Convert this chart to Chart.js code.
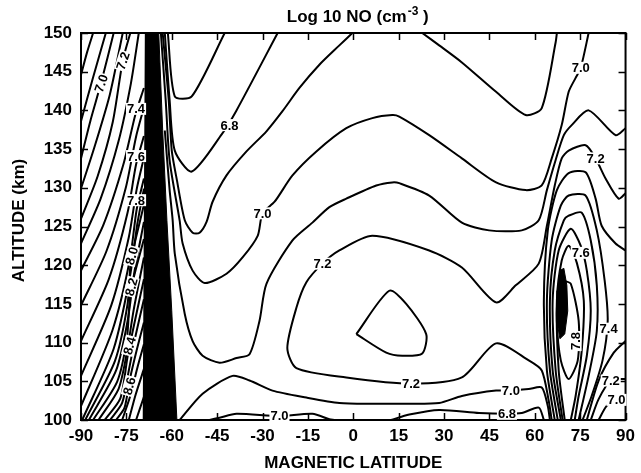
<!DOCTYPE html>
<html>
<head>
<meta charset="utf-8">
<script src="https://cdn.jsdelivr.net/npm/chart.js@4.4.0/dist/chart.umd.min.js"></script>
<style>
  html, body { margin: 0; padding: 0; background: #fff; }
  #wrap { width: 641px; height: 473px; }
</style>
</head>
<body>
<div id="wrap"><canvas id="c" width="641" height="473"></canvas></div>
<script>
// Axis ticks
const latTicks = [-90, -75, -60, -45, -30, -15, 0, 15, 30, 45, 60, 75, 90];
const altTicks = [100, 105, 110, 115, 120, 125, 130, 135, 140, 145, 150];

// Contour lines of log10 NO, as [magnetic latitude, altitude km] points.
// Southern high-latitude band (left of the steep gradient)
const s68 = [[-90,144.6],[-88.0,147.5],[-86.0,150]];
const s69 = [[-90,138.6],[-86.2,144.0],[-81.8,150]];
const s70 = [[-90,133.8],[-86.8,138.8],[-83.4,143.5],[-79.2,150]];
const s71 = [[-90,129.9],[-85.6,135.2],[-80.5,142.0],[-76.2,150]];
const s72 = [[-90,126.0],[-84.5,131.5],[-79.5,138.5],[-76.2,146.4],[-73.7,150]];
const s73 = [[-90,122.8],[-83.5,128.6],[-77.6,136.0],[-73.5,143.5],[-70.9,150]];
const s74 = [[-90,119.3],[-82.6,125.2],[-76.0,133.0],[-72.0,139.5],[-69.2,142.9]];
const s75 = [[-90,114.8],[-81.6,121.8],[-75.2,130.0],[-71.8,136.6],[-69.2,140.4]];
const s76 = [[-90,110.2],[-80.8,118.2],[-74.6,126.8],[-71.8,133.0],[-69.2,136.7]];
const s77 = [[-90,105.7],[-80.0,114.8],[-74.2,123.6],[-71.6,129.8],[-69.2,133.9]];
const s78 = [[-90,101.8],[-79.6,111.6],[-73.9,120.6],[-71.6,127.2],[-69.2,131.2]];
const s79 = [[-89.6,100],[-79.2,109.2],[-73.8,118.6],[-71.4,125.3],[-69.2,129.9]];
const s80 = [[-88.6,100],[-78.8,107.6],[-74.6,115.0],[-73.5,120.5],[-69.2,127.8]];
const s81 = [[-87.4,100],[-78.4,106.4],[-74.6,112.8],[-72.4,119.0],[-69.2,125.6]];
const s82 = [[-86.0,100],[-78.0,105.0],[-74.8,110.6],[-73.6,116.6],[-69.2,123.4]];
const s83 = [[-84.2,100],[-77.6,104.0],[-74.9,108.6],[-72.6,114.2],[-69.2,121.0]];
const s84 = [[-82.2,100],[-77.0,102.8],[-74.6,108.2],[-72.4,112.4],[-69.2,118.2]];
const s85 = [[-80.4,100],[-76.4,102.2],[-74.2,106.4],[-72.0,110.8],[-69.2,115.6]];
const s86 = [[-78.4,100],[-75.6,101.6],[-74.0,105.0],[-71.6,109.0],[-69.2,112.6]];
const s87 = [[-76.4,100],[-73.8,103.0],[-71.2,107.0],[-69.2,109.8]];
const s88 = [[-74.2,100],[-72.0,103.2],[-69.2,106.6]];
const s89 = [[-71.8,100],[-69.2,103.0]];

// Band of packed contours near -65 deg
const steepBand = [[-68.9,150],[-64.3,150],[-63.0,137.4],[-61.6,125.8],[-60.0,114.1],[-58.3,100],[-69.6,100]];

// Mid-latitude contours
const m67 = [[-61.3,150],[-59.0,141.8],[-53.4,141.8],[-42.5,150]];
const m68 = [[-62.3,150],[-60.7,141.3],[-59.0,134.8],[-53.4,132.1],[-43.5,136.9],[-38.6,140.0],[-25.0,150]];
const m69 = [[-63.0,150],[-61.0,141.3],[-60.0,134.8],[-58.3,131],[-55.7,125.8],[-53.1,124.2],[-50.8,124.2],[-48.5,125.6],[-46.5,128.2],[-41.9,131.6],[-35.3,134.7],[-28.7,137.3],[-23.4,139.9],[-17.8,142.9],[-11.2,145.9],[-4.6,148.4],[-0.3,150]];
const n69 = [[22.8,150],[28.4,148.4],[35.9,146.2],[47.2,142.4],[57.0,139.4],[62.3,140.3],[66.9,148.8],[67.3,150]];
const m70 = [[-63.6,150],[-62.0,141.3],[-60.7,133.5],[-57.4,125.8],[-56.4,122.8],[-53.1,119.3],[-49.1,117.7],[-41.9,118.9],[-36.6,121.0],[-31.6,123.8],[-30.0,126.7],[-26.0,128.2],[-20.1,131.6],[-12.2,134.7],[-2.3,137.7],[6.3,139.0],[12.9,139.4],[15.2,139.2],[25.1,136.8],[35.9,133.8],[47.2,130.7],[57.0,129.7],[62.3,130.3],[65.6,133.8],[68.9,138.1],[71.2,142.4],[73.5,144.2],[75.2,145.5],[77.8,150]];
const m71 = [[-62.3,137.4],[-60.7,129.7],[-59.7,125.8],[-59.0,121.5],[-55.7,113.7],[-53.1,110.2],[-49.8,108.3],[-44.2,107.4],[-38.6,108.0],[-34.3,108.5],[-31.0,112.8],[-28.7,117.6],[-20.1,123.2],[-13.5,125.5],[-7.9,127.5],[-2.3,128.6],[7.6,130.3],[12.9,130.7],[15.2,130.6],[25.1,129.0],[35.9,125.5],[44.9,124.5],[55.7,124.5],[61.3,125.8],[64.0,129.7],[66.9,133.6],[69.6,136.8],[72.2,138.1],[77.8,140.0],[86.7,136.8],[90,137.7]];
const m72 = [[90,129.3],[87.7,128.6],[83.4,131.2],[80.1,133.8],[76.8,135.5],[71.2,134.8],[68.9,133.8],[66.6,130.3],[64.0,125.1],[61.3,120.2],[53.7,117.4],[47.2,115.2],[35.9,119.7],[25.1,121.9],[6.3,123.8],[-4.6,121.9],[-10.2,120.2],[-15.5,117.8],[-18.8,114.5],[-21.8,109.3],[-18.8,106.7],[-2.3,105.5],[19.1,104.7],[35.9,105.5],[47.2,109.9],[58.0,107.7],[62.3,106.4],[64.6,102.5],[65.6,100]];
const m73 = [[1.0,111.1],[11.9,116.7],[17.5,115.0],[24.1,111.1],[22.8,108.6],[16.2,108.3],[10.9,108.7],[1.0,111.1]];
const low70 = [[-57.4,100],[-49.8,103.4],[-39.9,105.7],[-34.3,105.1],[-26.7,103.8],[-15.5,102.9],[-4.6,102.2],[6.3,102.1],[17.5,102.1],[28.4,102.2],[35.9,103.1],[47.2,103.8],[52.1,103.8],[58.0,104.0],[62.3,104.2],[64.3,101.8],[65.0,100]];
const base70 = [[-47.5,100],[-44.2,100.3],[-38.6,100.8],[-24.4,100.5],[-13.5,100.8],[-7.9,100.1],[-6.3,100]];
const base68 = [[12.5,100],[18.5,100.7],[28.4,101.3],[41.6,100.9],[50.8,100.8],[55.7,100.9],[61.3,101.6],[63.0,100]];

// Northern auroral enhancement near 70 deg
const p73 = [[66.6,100],[64.0,106.4],[63.0,115.4],[64.3,124.5],[67.3,129.7],[71.2,131.9],[76.8,132.0],[80.1,128.6],[82.1,125.1],[86.7,122.8],[90,121.9]];
const p73b = [[90,110.2],[86.1,108.7],[81.1,105.1],[77.2,100]];
const p74 = [[67.6,100],[65.0,106.4],[64.0,115.4],[65.6,123.2],[68.6,127.7],[71.2,129.0],[76.8,129.0],[80.5,124.5],[83.1,118.0],[84.1,112.8],[82.4,107.7],[78.8,103.1],[75.8,100]];
const p75 = [[68.6,100],[65.9,106.4],[65.0,115.4],[66.6,121.9],[69.6,125.8],[71.2,126.4],[75.5,126.8],[78.5,123.2],[80.5,117.4],[80.5,111.5],[77.8,105.7],[74.5,100]];
const p76 = [[69.2,100],[66.9,106.4],[65.9,115.4],[67.9,121.9],[71.9,124.7],[75.2,122.5],[77.2,119.3],[78.5,114.1],[77.2,108.3],[74.5,103.1],[73.2,100]];
const p77 = [[69.9,100],[67.9,106.4],[67.3,115.4],[68.9,120.6],[71.2,122.5],[73.9,120.3],[76.2,115.4],[75.5,108.9],[73.5,103.1],[71.9,100]];
const p78 = [[69.6,118.0],[71.9,117.6],[74.5,112.8],[74.2,107.7],[71.2,105.3],[68.6,107.7],[67.3,112.8],[67.9,116.7],[69.6,118.0]];
const peakCore = [[68.3,119.3],[69.6,119.6],[70.6,117.4],[70.9,114.1],[69.9,111.1],[68.3,110.5],[67.3,112.8],[67.3,116.7]];
const edge72 = [[78.5,100],[81.1,102.7],[85.1,105.1],[90,105.3]];
const edge70 = [[81.1,100],[83.7,101.8],[87.0,102.6],[90,102.9]];

const contourLines = [
  s68, s69, s70, s71, s72, s73, s74, s75, s76, s77, s78, s79, s80, s81, s82, s83, s84, s85, s86, s87, s88, s89,
  m67, m68, m69, n69, m70, m71, m72, m73, low70, base70, base68,
  p73, p73b, p74, p75, p76, p77, p78, edge72, edge70
];
const solidPatches = [steepBand, peakCore];

// Contour value labels: [text, latitude, altitude, rotation in degrees]
const levelLabels = [
  ['7.0', -83.4, 143.5, -72], ['7.2', -76.2, 146.4, -72],
  ['7.4', -71.8, 140.2, 0], ['7.6', -71.8, 134.1, 0], ['7.8', -71.8, 128.4, 0],
  ['8.0', -73.3, 121.2, -75], ['8.2', -73.4, 117.2, -75], ['8.4', -74.0, 109.6, -75], ['8.6', -74.1, 104.4, -75],
  ['6.8', -40.9, 138.1, 0], ['7.0', -30.0, 126.7, 0], ['7.2', -10.2, 120.2, 0], ['7.2', 19.1, 104.7, 0],
  ['7.0', -24.4, 100.6, 0], ['7.0', 52.1, 103.8, 0], ['6.8', 50.8, 100.8, 0],
  ['7.0', 75.2, 145.5, 0], ['7.2', 80.1, 133.8, 0], ['7.6', 75.2, 121.6, 0], ['7.8', 73.5, 110.2, -90],
  ['7.4', 84.4, 111.8, 0], ['7.2', 85.1, 105.1, 0], ['7.0', 87.0, 102.6, 0]
];

const toXY = pts => pts.map(p => ({ x: p[0], y: p[1] }));

const datasets = [];
solidPatches.forEach(poly => datasets.push({
  data: toXY(poly), showLine: true, fill: 'shape', backgroundColor: '#000',
  borderColor: '#000', borderWidth: 1, pointRadius: 0, tension: 0
}));
contourLines.forEach(line => datasets.push({
  data: toXY(line), showLine: true, fill: false, borderColor: '#000',
  borderWidth: 2, pointRadius: 0, tension: 0.25
}));

const FONT = '"Liberation Sans", Arial, Helvetica, sans-serif';

// Frame with inward ticks on all four sides
const framePlugin = {
  id: 'frame',
  afterDatasetsDraw(chart) {
    const { ctx, chartArea: a, scales: { x, y } } = chart;
    ctx.save();
    ctx.strokeStyle = '#000';
    ctx.lineWidth = 2;
    ctx.strokeRect(a.left, a.top, a.right - a.left, a.bottom - a.top);
    ctx.lineWidth = 1.5;
    const len = 7;
    ctx.beginPath();
    latTicks.forEach(v => {
      const px = Math.round(x.getPixelForValue(v)) + 0.5;
      ctx.moveTo(px, a.bottom); ctx.lineTo(px, a.bottom - len);
      ctx.moveTo(px, a.top); ctx.lineTo(px, a.top + len);
    });
    altTicks.forEach(v => {
      const py = Math.round(y.getPixelForValue(v)) + 0.5;
      ctx.moveTo(a.left, py); ctx.lineTo(a.left + len, py);
      ctx.moveTo(a.right, py); ctx.lineTo(a.right - len, py);
    });
    ctx.stroke();
    ctx.restore();
  }
};

// Value labels sitting on the contour lines
const labelPlugin = {
  id: 'levelLabels',
  afterDatasetsDraw(chart) {
    const { ctx, scales: { x, y } } = chart;
    ctx.save();
    ctx.font = 'bold 13px ' + FONT;
    ctx.textAlign = 'center';
    ctx.textBaseline = 'middle';
    levelLabels.forEach(([txt, lat, alt, rot]) => {
      const px = x.getPixelForValue(lat), py = y.getPixelForValue(alt);
      ctx.save();
      ctx.translate(px, py);
      ctx.rotate(rot * Math.PI / 180);
      const w = ctx.measureText(txt).width;
      ctx.fillStyle = '#fff';
      ctx.fillRect(-w / 2 - 1, -6, w + 2, 12);
      ctx.fillStyle = '#000';
      ctx.fillText(txt, 0, 1);
      ctx.restore();
    });
    ctx.restore();
  }
};

// Title and axis titles
const titlePlugin = {
  id: 'titles',
  afterDraw(chart) {
    const { ctx, chartArea: a } = chart;
    const cx = (a.left + a.right) / 2;
    ctx.save();
    ctx.fillStyle = '#000';
    ctx.textBaseline = 'alphabetic';
    // "Log 10 NO (cm-3 )" with a raised exponent
    const main = 'Log 10 NO (cm', sup = '-3', tail = ' )';
    ctx.font = 'bold 17px ' + FONT;
    const w1 = ctx.measureText(main).width, w3 = ctx.measureText(tail).width;
    ctx.font = 'bold 12px ' + FONT;
    const w2 = ctx.measureText(sup).width;
    let sx = cx + 4 - (w1 + w2 + w3) / 2;
    ctx.textAlign = 'left';
    ctx.font = 'bold 17px ' + FONT;
    ctx.fillText(main, sx, 22);
    ctx.font = 'bold 12px ' + FONT;
    ctx.fillText(sup, sx + w1 + 1, 15);
    ctx.font = 'bold 17px ' + FONT;
    ctx.fillText(tail, sx + w1 + w2 + 1, 22);

    ctx.textAlign = 'center';
    ctx.font = 'bold 17px ' + FONT;
    ctx.fillText('MAGNETIC LATITUDE', cx, 468);
    ctx.translate(24, (a.top + a.bottom) / 2 - 6);
    ctx.rotate(-Math.PI / 2);
    ctx.fillText('ALTITUDE (km)', 0, 0);
    ctx.restore();
  }
};

new Chart(document.getElementById('c'), {
  type: 'scatter',
  data: { datasets },
  options: {
    responsive: false,
    animation: false,
    devicePixelRatio: 1,
    layout: { padding: { top: 33, right: 14, left: 0, bottom: 0 } },
    plugins: { legend: { display: false }, title: { display: false }, tooltip: { enabled: false } },
    scales: {
      x: {
        type: 'linear', min: -90, max: 90,
        afterBuildTicks: s => { s.ticks = latTicks.map(v => ({ value: v })); },
        afterFit: s => { s.height = 53; },
        ticks: { color: '#000', font: { family: FONT, size: 17, weight: 'bold' }, padding: 6, maxRotation: 0, autoSkip: false },
        grid: { display: false, drawTicks: false },
        border: { display: false }
      },
      y: {
        type: 'linear', min: 100, max: 150,
        afterBuildTicks: s => { s.ticks = altTicks.map(v => ({ value: v })); },
        afterFit: s => { s.width = 81; },
        ticks: { color: '#000', font: { family: FONT, size: 17, weight: 'bold' }, padding: 9, autoSkip: false },
        grid: { display: false, drawTicks: false },
        border: { display: false }
      }
    }
  },
  plugins: [framePlugin, labelPlugin, titlePlugin]
});
</script>
</body>
</html>
